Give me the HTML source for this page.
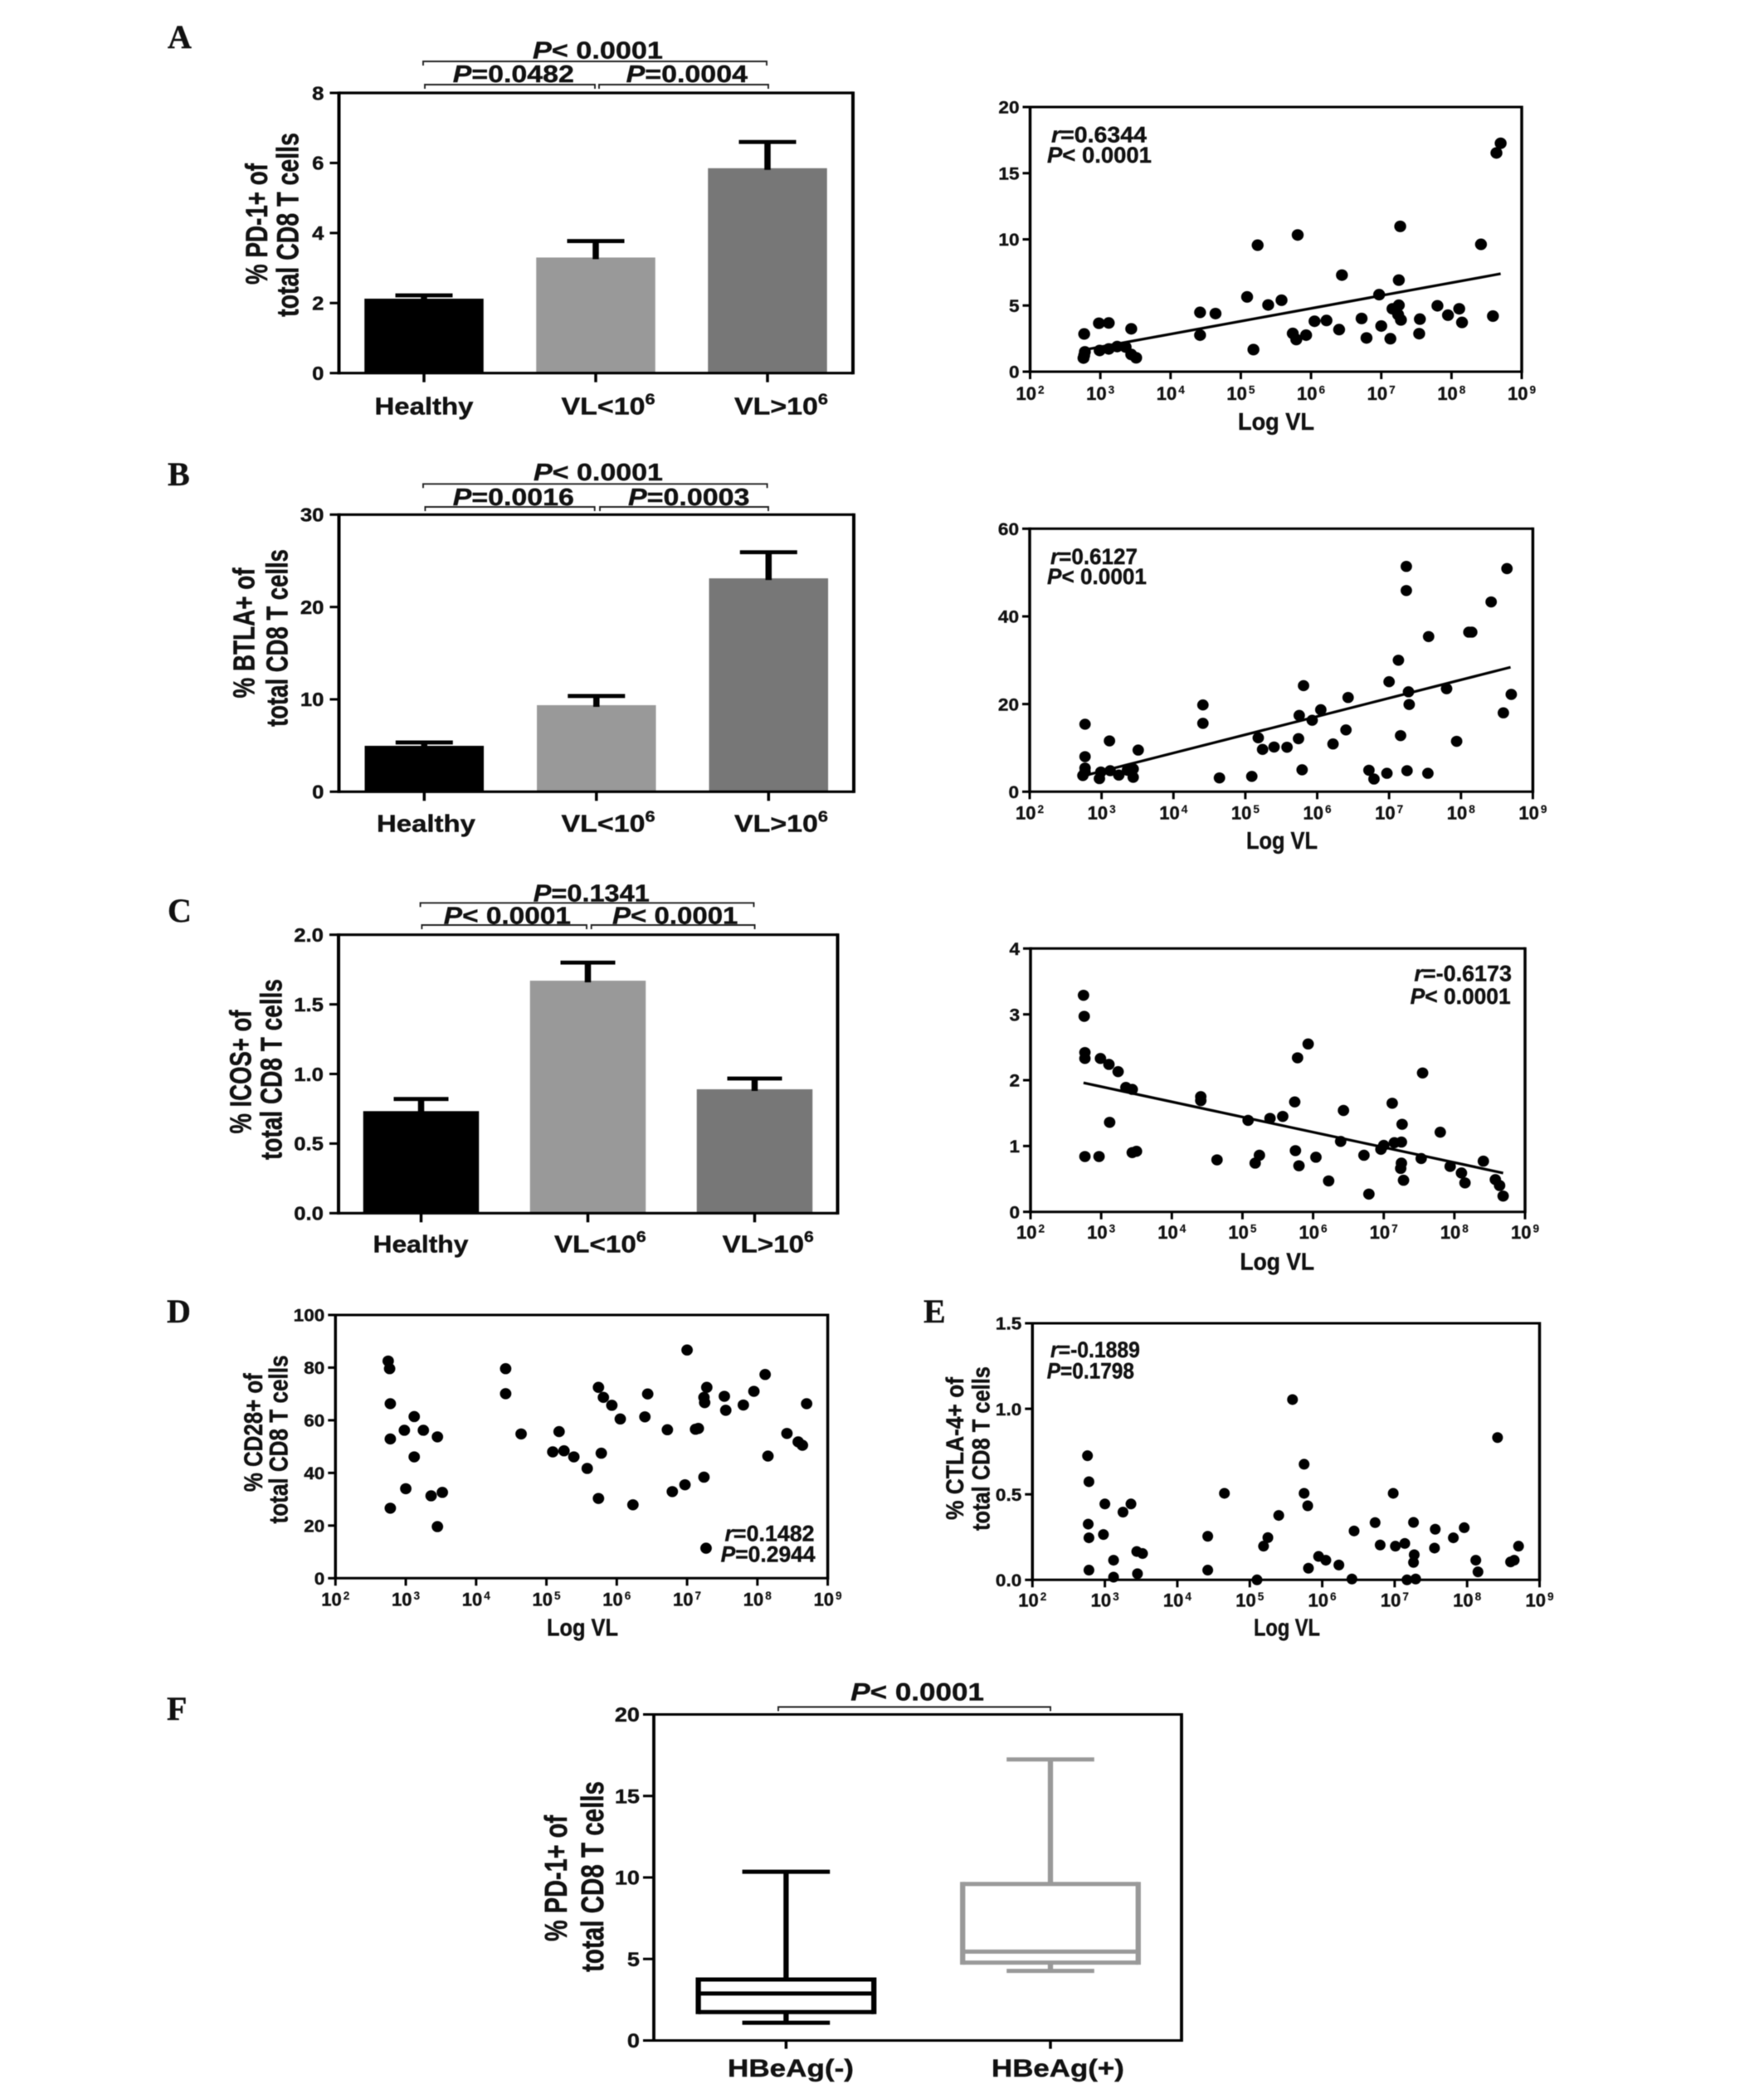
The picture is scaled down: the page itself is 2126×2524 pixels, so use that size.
<!DOCTYPE html>
<html>
<head>
<meta charset="utf-8">
<title>CD8 T cell checkpoint expression vs viral load</title>
<style>
html,body{margin:0;padding:0;background:#fff;}
svg{display:block;filter:blur(0.45px);}
text{font-family:"Liberation Sans",sans-serif;font-weight:bold;fill:#111;stroke:#111;stroke-width:0.4px;}
</style>
</head>
<body>
<svg id="figure" xmlns="http://www.w3.org/2000/svg" width="2126" height="2524" viewBox="0 0 2126 2524"></svg>
<script>
/* ---------- shared tick data ---------- */
const xExponents = [2,3,4,5,6,7,8,9];
const barCategories = ['Healthy','VL<10','VL>10'];
const barCategorySup = ['','6','6'];

/* ---------- panel A bars ---------- */
const aBarMeans = [2.125,3.3,5.85];
const aBarErrTops = [2.22,3.77,6.6];
const aBarTicks = [0,2,4,6,8];
const aBarTickLabels = ['0','2','4','6','8'];

/* ---------- panel B bars ---------- */
const bBarMeans = [4.97,9.37,23.1];
const bBarErrTops = [5.33,10.36,25.93];
const bBarTicks = [0,10,20,30];
const bBarTickLabels = ['0','10','20','30'];

/* ---------- panel C bars ---------- */
const cBarMeans = [0.733,1.67,0.89];
const cBarErrTops = [0.82,1.80,0.967];
const cBarTicks = [0,0.5,1,1.5,2];
const cBarTickLabels = ['0.0','0.5','1.0','1.5','2.0'];

/* ---------- panel A scatter ---------- */
const aLogVL = [2.77,2.78,2.77,2.76,2.99,2.98,3.12,3.12,3.24,3.36,3.44,3.44,3.51,4.42,4.42,4.64,5.09,5.18,5.24,5.39,5.58,5.74,5.79,5.81,5.93,6.05,6.22,6.40,6.44,6.72,6.79,6.97,7.0,7.13,7.16,7.25,7.24,7.25,7.27,7.28,7.54,7.55,7.80,7.95,8.11,8.15,8.42,8.59,8.64,8.70];
const aPct = [2.85,1.5,1.23,1.03,1.6,3.66,3.68,1.72,1.9,1.86,3.24,1.3,1.05,4.48,2.76,4.39,5.65,1.67,9.56,5.04,5.4,2.89,2.43,10.33,2.76,3.81,3.87,3.18,7.3,4.02,2.55,5.82,3.45,2.49,4.75,5.02,4.31,6.92,10.98,3.91,2.87,3.97,4.98,4.27,4.75,3.72,9.62,4.2,16.53,17.26];
const aTrendLogVL = [2.77,8.70];
const aTrendPct = [1.65,7.4];
const aScatterTicks = [0,5,10,15,20];
const aScatterTickLabels = ['0','5','10','15','20'];

/* ---------- panel B scatter ---------- */
const bLogVL = [2.77,2.77,2.77,2.77,2.74,2.97,2.99,3.11,3.12,3.24,3.36,3.44,3.44,3.51,4.41,4.41,4.64,5.09,5.18,5.24,5.40,5.58,5.74,5.75,5.79,5.81,5.93,6.05,6.22,6.40,6.43,6.72,6.79,6.97,7.0,7.13,7.16,7.24,7.24,7.25,7.27,7.28,7.54,7.55,7.80,7.94,8.11,8.15,8.42,8.59,8.64,8.70];
const bPct = [15.4,8.0,5.4,4.5,3.7,3.0,4.5,11.6,4.8,3.8,4.9,5.2,3.3,9.5,19.8,15.6,3.15,3.5,12.3,9.65,10.2,10.15,12.1,17.4,5.0,24.2,16.3,18.7,10.9,14.1,21.5,4.9,2.9,4.2,25.1,30.0,12.8,51.4,45.9,4.8,22.8,19.9,4.2,35.4,23.5,11.5,36.4,36.4,43.3,18.0,50.9,22.2];
const bTrendLogVL = [2.76,8.69];
const bTrendPct = [3.66,28.4];
const bScatterTicks = [0,20,40,60];
const bScatterTickLabels = ['0','20','40','60'];

/* ---------- panel C scatter ---------- */
const cLogVL = [2.75,2.76,2.77,2.77,2.77,2.97,2.99,3.11,3.12,3.24,3.35,3.44,3.44,3.50,4.41,4.41,4.64,5.08,5.18,5.24,5.39,5.57,5.74,5.75,5.78,5.80,5.93,6.04,6.22,6.39,6.43,6.72,6.79,6.96,7.0,7.12,7.15,7.25,7.25,7.24,7.26,7.28,7.53,7.55,7.80,7.94,8.10,8.15,8.41,8.58,8.64,8.69];
const cPct = [3.29,2.97,2.42,2.33,0.84,0.84,2.33,2.24,1.36,2.13,1.89,1.86,0.90,0.92,1.75,1.69,0.79,1.39,0.74,0.86,1.42,1.45,1.67,0.93,2.34,0.70,2.55,0.83,0.47,1.07,1.54,0.86,0.27,0.95,1.01,1.65,1.05,1.06,0.74,0.66,1.33,0.48,0.81,2.11,1.21,0.69,0.59,0.44,0.77,0.49,0.40,0.24];
const cTrendLogVL = [2.75,8.69];
const cTrendPct = [1.96,0.59];
const cScatterTicks = [0,1,2,3,4];
const cScatterTickLabels = ['0','1','2','3','4'];

/* ---------- panel D scatter ---------- */
const dLogVL = [2.75,2.77,2.78,2.78,2.78,2.98,3.0,3.12,3.12,3.25,3.36,3.45,3.45,3.52,4.42,4.42,4.64,5.09,5.18,5.25,5.39,5.58,5.74,5.74,5.78,5.81,5.93,6.05,6.23,6.40,6.44,6.72,6.79,6.97,7.0,7.12,7.16,7.24,7.24,7.25,7.27,7.28,7.53,7.55,7.80,7.95,8.11,8.15,8.42,8.58,8.64,8.70];
const dPct = [82.5,79.6,66.3,52.9,26.6,56.2,34.0,61.4,46.1,56.2,31.3,53.7,19.6,32.6,79.6,70.1,54.8,48.0,55.7,48.4,46.1,41.7,72.5,30.3,47.5,68.7,65.7,60.5,27.9,61.3,70.0,56.4,32.9,35.5,86.7,56.6,56.9,38.4,68.7,66.7,11.4,72.5,69.1,63.8,65.8,71.0,77.4,46.4,55.0,51.8,50.5,66.3];
const dScatterTicks = [0,20,40,60,80,100];
const dScatterTickLabels = ['0','20','40','60','80','100'];

/* ---------- panel E scatter ---------- */
const eLogVL = [2.76,2.78,2.77,2.78,2.78,2.98,3.0,3.12,3.12,3.25,3.36,3.44,3.45,3.52,4.42,4.42,4.65,5.10,5.19,5.25,5.40,5.59,5.75,5.75,5.80,5.81,5.95,6.05,6.23,6.41,6.44,6.73,6.80,6.98,7.01,7.14,7.17,7.26,7.26,7.27,7.29,7.55,7.56,7.81,7.96,8.12,8.15,8.42,8.60,8.65,8.71];
const ePct = [0.726,0.574,0.326,0.246,0.057,0.265,0.444,0.115,0.016,0.396,0.444,0.166,0.036,0.154,0.255,0.057,0.506,0.0,0.197,0.247,0.377,1.054,0.676,0.506,0.433,0.068,0.137,0.115,0.087,0.005,0.286,0.335,0.204,0.506,0.197,0.213,0.0,0.102,0.336,0.147,0.005,0.186,0.296,0.246,0.305,0.115,0.047,0.832,0.105,0.115,0.197];
const eScatterTicks = [0,0.5,1,1.5];
const eScatterTickLabels = ['0.0','0.5','1.0','1.5'];

/* ---------- panel F box plot ---------- */
const fCategories = ['HBeAg(-)','HBeAg(+)'];
const fWhiskerLow = [1.09,4.27];
const fQ1 = [1.74,4.78];
const fMedian = [2.88,5.45];
const fQ3 = [3.74,9.6];
const fWhiskerHigh = [10.35,17.24];
const fTicks = [0,5,10,15,20];
const fTickLabels = ['0','5','10','15','20'];

/* ---------- drawing helpers ---------- */
const NS = 'http://www.w3.org/2000/svg';
const root = document.getElementById('figure');

function mark(tag, parent, name, attrs) {
  const el = document.createElementNS(NS, tag);
  
  
  for (const k in attrs) el.setAttribute(k, attrs[k]);
  parent.appendChild(el);
  return el;
}
function ln(parent, name, x1, y1, x2, y2, w, color) {
  return mark('line', parent, name, {x1, y1, x2, y2, stroke: color || '#000', 'stroke-width': w});
}
/* runs: [text, 'i' italic | 's' bar superscript | 'S' axis superscript | ''] */
function fillRuns(el, runs, size) {
  runs.forEach(r => {
    const t = document.createElementNS(NS, 'tspan');
    t.textContent = r[0];
    if (r[1] === 'i') t.setAttribute('font-style', 'italic');
    if (r[1] === 's') {
      t.setAttribute('font-size', size * 0.64);
      t.setAttribute('dy', -size * 0.42);
    }
    if (r[1] === 'S') {
      t.setAttribute('font-size', size * 0.62);
      t.setAttribute('dy', -size * 0.35);
      t.setAttribute('dx', 2);
      t.setAttribute('stroke-width', 0.15);
    }
    el.appendChild(t);
  });
}
/* text spanning x0..x1 on the given baseline, stretched horizontally to fit */
function fitText(parent, name, x0, x1, base, size, runs) {
  const el = mark('text', parent, name, {'font-size': size});
  fillRuns(el, runs, size);
  const w = el.getComputedTextLength() || 1;
  el.setAttribute('transform', 'translate(' + x0 + ',' + base + ') scale(' + ((x1 - x0) / w) + ',1)');
  return el;
}
/* vertical text centred on yc, running over len px; cross stretches glyph height */
function rotText(parent, name, x, yc, len, size, cross, str) {
  const el = mark('text', parent, name, {'font-size': size, 'text-anchor': 'middle'});
  el.textContent = str;
  const w = el.getComputedTextLength() || 1;
  el.setAttribute('transform', 'translate(' + x + ',' + yc + ') scale(' + cross + ',1) rotate(-90) scale(' + (len / w) + ',1)');
  return el;
}
function anchored(parent, name, x, y, size, sx, anchor, runs) {
  const el = mark('text', parent, name, {'font-size': size, 'text-anchor': anchor});
  fillRuns(el, runs, size);
  el.setAttribute('transform', 'translate(' + x + ',' + y + ') scale(' + sx + ',1)');
  return el;
}
function bracket(parent, name, x0, x1, y, drop) {
  return mark('path', parent, name, {
    d: 'M' + x0 + ' ' + (y + drop) + 'V' + y + 'H' + x1 + 'V' + (y + drop),
    fill: 'none', stroke: '#222', 'stroke-width': 1.9
  });
}
function frame(parent, box, vw, hw) {
  const g = mark('g', parent, 'plot-frame', {});
  ln(g, 'y-axis-line', box.left, box.top - hw / 2, box.left, box.bottom + hw / 2, vw);
  ln(g, 'right-border', box.right, box.top - hw / 2, box.right, box.bottom + hw / 2, vw);
  ln(g, 'top-border', box.left, box.top, box.right, box.top, hw);
  ln(g, 'x-axis-line', box.left, box.bottom, box.right, box.bottom, hw);
}
function yScale(box, min, max) {
  return v => box.bottom - (v - min) / (max - min) * (box.bottom - box.top);
}
function yAxis(parent, box, y, ticks, labels, o) {
  const g = mark('g', parent, 'y-axis', {});
  ticks.forEach((t, i) => {
    ln(g, 'y-tick', box.left - o.tick, y(t), box.left, y(t), o.hw);
    anchored(g, 'y-tick-label', box.left - o.gap, y(t) + o.size * 0.36, o.size, o.sx, 'end', [[labels[i], '']]);
  });
}

/* ---------- bar chart ---------- */
function barChart(p, means, errs, ticks, labels) {
  const g = mark('g', root, p.name, {});
  const maxV = ticks[ticks.length - 1];
  const y = yScale(p, 0, maxV);
  const cx = i => p.c0 + i * p.step;
  const fills = ['#000', '#999', '#777'];
  means.forEach((m, i) => {
    mark('rect', g, 'bar-' + barCategories[i].toLowerCase().replace(/[<>]/, '-'), {
      x: cx(i) - p.bw / 2, y: y(m), width: p.bw, height: p.bottom - y(m), fill: fills[i]
    });
    ln(g, 'error-stem', cx(i), y(errs[i]), cx(i), y(m) + 2, 7.5);
    ln(g, 'error-cap', cx(i) - p.cap / 2, y(errs[i]), cx(i) + p.cap / 2, y(errs[i]), 4.8);
  });
  frame(g, p, 4, 3.2);
  yAxis(g, p, y, ticks, labels, {tick: 11, gap: 18, size: 23, sx: 1.12, hw: 3});
  means.forEach((m, i) => {
    ln(g, 'x-tick', cx(i), p.bottom, cx(i), p.bottom + 11, 3.5);
  });
  p.xLabels.forEach((span, i) => {
    fitText(g, 'x-category-label', span[0], span[1], p.labelBase, 29, [[barCategories[i], ''], [barCategorySup[i], 's']]);
  });
  return g;
}

/* ---------- scatter ---------- */
function scatter(p, logVL, vals, ticks, labels, trendX, trendY) {
  const g = mark('g', root, p.name, {});
  const x = e => p.left + (e - xExponents[0]) / (xExponents[xExponents.length - 1] - xExponents[0]) * (p.right - p.left);
  const y = yScale(p, 0, ticks[ticks.length - 1]);
  frame(g, p, 3.5, 3);
  yAxis(g, p, y, ticks, labels, {tick: 9, gap: 13, size: 21.5, sx: 1.05, hw: 3});
  xExponents.forEach(e => {
    ln(g, 'x-tick', x(e), p.bottom, x(e), p.bottom + 9, 3);
    anchored(g, 'x-tick-label', x(e), p.tickBase, 22, 1, 'middle', [['10', ''], [String(e), 'S']]);
  });
  if (trendX) {
    mark('line', g, 'trend-line', {
      x1: x(trendX[0]), y1: y(trendY[0]), x2: x(trendX[1]), y2: y(trendY[1]),
      stroke: '#000', 'stroke-width': 3.2
    });
  }
  logVL.forEach((e, i) => {
    mark('ellipse', g, 'data-point', {cx: x(e), cy: y(vals[i]), rx: p.rx, ry: p.ry, fill: '#000'});
  });
  fitText(g, 'x-axis-title', p.xTitle[0], p.xTitle[1], p.xTitle[2], 28.5, [['Log VL', '']]);
  return g;
}

/* ---------- panel letters ---------- */
function letter(str, x, y) {
  const el = mark('text', root, 'panel-letter-' + str.toLowerCase(), {
    x: x, y: y, 'font-size': 40
  });
  el.style.fontFamily = '"Liberation Serif",serif';
  el.textContent = str;
}
letter('A', 202, 58);
letter('B', 202, 585);
letter('C', 202, 1111);
letter('D', 201, 1594);
letter('E', 1113, 1594);
letter('F', 201, 2073);

/* ---------- panel A ---------- */
const pAB = barChart({name: 'panel-a-bar-chart', left: 408.5, right: 1028, top: 112, bottom: 449.7, c0: 511, step: 207, bw: 143.5, cap: 69, labelBase: 499.5,
  xLabels: [[451.5, 570.5], [676.5, 789.6], [885, 998]]}, aBarMeans, aBarErrTops, aBarTicks, aBarTickLabels);
rotText(pAB, 'y-axis-title-line-1', 321.8, 270, 146, 28.5, 1.3, '% PD-1+ of');
rotText(pAB, 'y-axis-title-line-2', 359.7, 271, 222, 28.5, 1.3, 'total CD8 T cells');
bracket(pAB, 'significance-bracket-overall', 510, 924, 74, 5);
bracket(pAB, 'significance-bracket-left', 512, 717, 102, 5);
bracket(pAB, 'significance-bracket-right', 722, 926, 102, 5);
fitText(pAB, 'p-value-overall', 642, 799, 70.6, 29, [['P', 'i'], ['< 0.0001', '']]);
fitText(pAB, 'p-value-left', 545.7, 692, 99, 29, [['P', 'i'], ['=0.0482', '']]);
fitText(pAB, 'p-value-right', 754.6, 901, 99, 29, [['P', 'i'], ['=0.0004', '']]);

const pAS = scatter({name: 'panel-a-scatter', left: 1241.5, right: 1834, top: 129, bottom: 448, rx: 7.2, ry: 7, tickBase: 482, xTitle: [1492, 1584, 518]},
  aLogVL, aPct, aScatterTicks, aScatterTickLabels, aTrendLogVL, aTrendPct);
fitText(pAS, 'correlation-r', 1267, 1382, 171.5, 27, [['r', 'i'], ['=0.6344', '']]);
fitText(pAS, 'correlation-p', 1262, 1388, 196, 27, [['P', 'i'], ['< 0.0001', '']]);

/* ---------- panel B ---------- */
const pBB = barChart({name: 'panel-b-bar-chart', left: 408.5, right: 1029, top: 620.3, bottom: 954.3, c0: 511.3, step: 207.5, bw: 143.5, cap: 69, labelBase: 1002.7,
  xLabels: [[454, 573], [676.5, 789.6], [885, 998]]}, bBarMeans, bBarErrTops, bBarTicks, bBarTickLabels);
rotText(pBB, 'y-axis-title-line-1', 306.3, 763, 157, 27.5, 1.3, '% BTLA+ of');
rotText(pBB, 'y-axis-title-line-2', 346.5, 769, 214, 27.5, 1.3, 'total CD8 T cells');
bracket(pBB, 'significance-bracket-overall', 510, 924.6, 583.3, 5);
bracket(pBB, 'significance-bracket-left', 512.4, 716.7, 611, 5);
bracket(pBB, 'significance-bracket-right', 723, 926, 611, 5);
fitText(pBB, 'p-value-overall', 643, 799, 579, 29, [['P', 'i'], ['< 0.0001', '']]);
fitText(pBB, 'p-value-left', 545.7, 692, 609, 29, [['P', 'i'], ['=0.0016', '']]);
fitText(pBB, 'p-value-right', 757, 903.5, 609, 29, [['P', 'i'], ['=0.0003', '']]);

const pBS = scatter({name: 'panel-b-scatter', left: 1241, right: 1847.4, top: 637.3, bottom: 954.3, rx: 6.9, ry: 6.7, tickBase: 987.7, xTitle: [1502, 1588, 1023]},
  bLogVL, bPct, bScatterTicks, bScatterTickLabels, bTrendLogVL, bTrendPct);
fitText(pBS, 'correlation-r', 1266, 1371, 680, 27, [['r', 'i'], ['=0.6127', '']]);
fitText(pBS, 'correlation-p', 1262, 1382, 704, 27, [['P', 'i'], ['< 0.0001', '']]);

/* ---------- panel C ---------- */
const pCB = barChart({name: 'panel-c-bar-chart', left: 408, right: 1009.5, top: 1126.7, bottom: 1462.3, c0: 507.5, step: 201, bw: 139.5, cap: 66, labelBase: 1509.3,
  xLabels: [[449.5, 564.5], [668, 778.7], [870.6, 980.8]]}, cBarMeans, cBarErrTops, cBarTicks, cBarTickLabels);
rotText(pCB, 'y-axis-title-line-1', 302.3, 1292, 149, 28, 1.3, '% ICOS+ of');
rotText(pCB, 'y-axis-title-line-2', 339.6, 1289, 218, 28, 1.3, 'total CD8 T cells');
bracket(pCB, 'significance-bracket-overall', 506.6, 908.5, 1088.3, 5);
bracket(pCB, 'significance-bracket-left', 508.4, 707, 1115, 5);
bracket(pCB, 'significance-bracket-right', 712.7, 909.6, 1115, 5);
fitText(pCB, 'p-value-overall', 642.7, 782.8, 1086.7, 29, [['P', 'i'], ['=0.1341', '']]);
fitText(pCB, 'p-value-left', 534.8, 688, 1113.3, 29, [['P', 'i'], ['< 0.0001', '']]);
fitText(pCB, 'p-value-right', 738, 889.5, 1113.3, 29, [['P', 'i'], ['< 0.0001', '']]);

const pCS = scatter({name: 'panel-c-scatter', left: 1242, right: 1838, top: 1143.3, bottom: 1460.7, rx: 6.9, ry: 6.7, tickBase: 1493, xTitle: [1494.5, 1584, 1530.7]},
  cLogVL, cPct, cScatterTicks, cScatterTickLabels, cTrendLogVL, cTrendPct);
fitText(pCS, 'correlation-r', 1704.4, 1822, 1182.7, 27, [['r', 'i'], ['=-0.6173', '']]);
fitText(pCS, 'correlation-p', 1699.6, 1820.7, 1210, 27, [['P', 'i'], ['< 0.0001', '']]);

/* ---------- panel D ---------- */
const pDS = scatter({name: 'panel-d-scatter', left: 404.3, right: 997.6, top: 1585, bottom: 1902.3, rx: 6.9, ry: 6.7, tickBase: 1935.7, xTitle: [659, 745, 1971.7]},
  dLogVL, dPct, dScatterTicks, dScatterTickLabels);
rotText(pDS, 'y-axis-title-line-1', 316, 1726.7, 143, 26, 1.2, '% CD28+ of');
rotText(pDS, 'y-axis-title-line-2', 346.6, 1735, 203, 26, 1.2, 'total CD8 T cells');
fitText(pDS, 'correlation-r', 873.5, 981.6, 1857.3, 27, [['r', 'i'], ['=0.1482', '']]);
fitText(pDS, 'correlation-p', 868.6, 982.6, 1882.7, 27, [['P', 'i'], ['=0.2944', '']]);

/* ---------- panel E ---------- */
const pES = scatter({name: 'panel-e-scatter', left: 1244.3, right: 1855.5, top: 1595, bottom: 1904.3, rx: 6.5, ry: 6.5, tickBase: 1936.7, xTitle: [1511, 1591, 1971.7]},
  eLogVL, ePct, eScatterTicks, eScatterTickLabels);
rotText(pES, 'y-axis-title-line-1', 1161, 1746, 172, 25.4, 1.15, '% CTLA-4+ of');
rotText(pES, 'y-axis-title-line-2', 1192.4, 1746, 198, 25.4, 1.15, 'total CD8 T cells');
fitText(pES, 'correlation-r', 1266, 1374, 1636, 27, [['r', 'i'], ['=-0.1889', '']]);
fitText(pES, 'correlation-p', 1261.7, 1367, 1661.7, 27, [['P', 'i'], ['=0.1798', '']]);

/* ---------- panel F ---------- */
(function () {
  const p = {left: 788, right: 1424, top: 2066.5, bottom: 2459.5};
  const g = mark('g', root, 'panel-f-box-plot', {});
  const y = yScale(p, 0, fTicks[fTicks.length - 1]);
  const cx = i => 947.4 + i * 318.6;
  const colors = ['#000', '#999'];
  const boxHalf = 105.8;
  const capHalf = 52.8;
  fCategories.forEach((c, i) => {
    const b = mark('g', g, 'box-' + (i ? 'hbeag-positive' : 'hbeag-negative'), {});
    const col = colors[i];
    const X = cx(i);
    ln(b, 'upper-whisker', X, y(fWhiskerHigh[i]), X, y(fQ3[i]), 6.3, col);
    ln(b, 'lower-whisker', X, y(fQ1[i]), X, y(fWhiskerLow[i]), 6.3, col);
    ln(b, 'upper-cap', X - capHalf, y(fWhiskerHigh[i]), X + capHalf, y(fWhiskerHigh[i]), 5, col);
    ln(b, 'lower-cap', X - capHalf, y(fWhiskerLow[i]), X + capHalf, y(fWhiskerLow[i]), 5, col);
    ln(b, 'box-left', X - boxHalf, y(fQ3[i]) - 2.5, X - boxHalf, y(fQ1[i]) + 2.5, 6.3, col);
    ln(b, 'box-right', X + boxHalf, y(fQ3[i]) - 2.5, X + boxHalf, y(fQ1[i]) + 2.5, 6.3, col);
    ln(b, 'box-top', X - boxHalf, y(fQ3[i]), X + boxHalf, y(fQ3[i]), 5, col);
    ln(b, 'box-bottom', X - boxHalf, y(fQ1[i]), X + boxHalf, y(fQ1[i]), 5, col);
    ln(b, 'box-median', X - boxHalf, y(fMedian[i]), X + boxHalf, y(fMedian[i]), 5, col);
    ln(g, 'x-tick', X, p.bottom, X, p.bottom + 10, 3.5);
  });
  frame(g, p, 3.8, 3);
  yAxis(g, p, y, fTicks, fTickLabels, {tick: 13, gap: 17, size: 24, sx: 1.13, hw: 3});
  fitText(g, 'x-category-label', 877, 1029, 2503, 30, [[fCategories[0], '']]);
  fitText(g, 'x-category-label', 1195, 1355, 2503, 30, [[fCategories[1], '']]);
  rotText(g, 'y-axis-title-line-1', 682.8, 2264, 152, 29.5, 1.28, '% PD-1+ of');
  rotText(g, 'y-axis-title-line-2', 727.2, 2262, 230, 29.5, 1.28, 'total CD8 T cells');
  bracket(g, 'significance-bracket', 938, 1266, 2057.5, 5);
  fitText(g, 'p-value', 1025.3, 1186, 2049.3, 30, [['P', 'i'], ['< 0.0001', '']]);
})();
</script>
</body>
</html>
